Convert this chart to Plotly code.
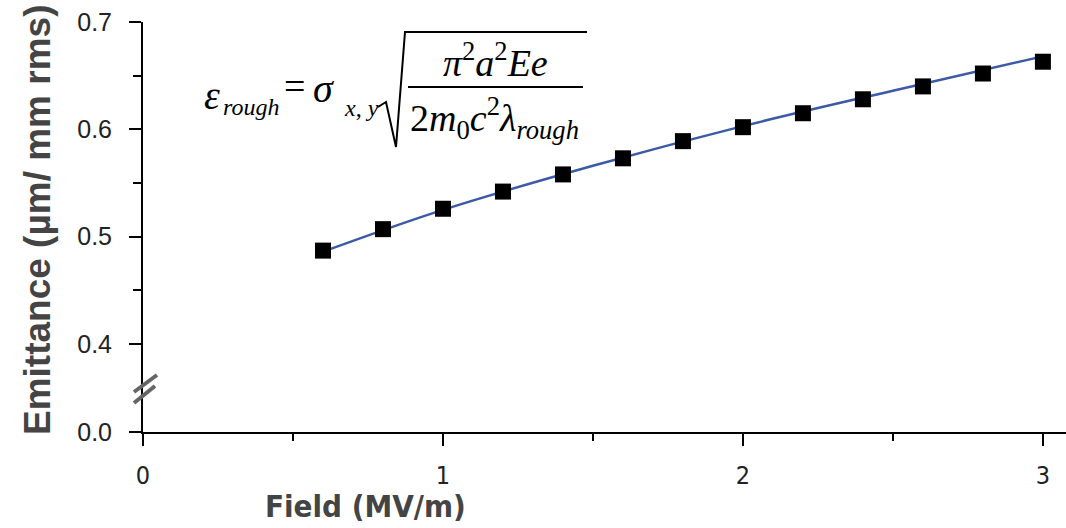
import plotly.graph_objects as go

# ---- data ----
field = [0.6, 0.8, 1.0, 1.2, 1.4, 1.6, 1.8, 2.0, 2.2, 2.4, 2.6, 2.8, 3.0]
emittance = [0.487, 0.507, 0.526, 0.542, 0.558, 0.573, 0.589, 0.602, 0.615, 0.628, 0.640, 0.652, 0.663]
fit_field = [0.6, 1.0, 1.5, 2.0, 2.5, 3.0]
fit_emittance = [0.486, 0.525, 0.566, 0.603, 0.636, 0.668]

# broken y axis: the bottom of the axis stands for 0.0
y_axis_bottom = 0.318
ytick_vals = [y_axis_bottom, 0.4, 0.5, 0.6, 0.7]
ytick_text = ["0.0", "0.4", "0.5", "0.6", "0.7"]
yminor_vals = [0.45, 0.55, 0.65]
xtick_vals = [0, 1, 2, 3]
xtick_text = ["0", "1", "2", "3"]

W, H = 1066, 528
L, R, T, B = 143, 0, 22, 96
pw, ph = W - L - R, H - T - B


def px(x):
    return (x - L) / pw


def py(y):
    return (H - B - y) / ph


fig = go.Figure()
fig.add_trace(go.Scatter(x=fit_field, y=fit_emittance, mode="lines",
                         line=dict(color="#3C5AA6", width=2.5, shape="spline"),
                         hoverinfo="skip", showlegend=False))
fig.add_trace(go.Scatter(x=field, y=emittance, mode="markers",
                         marker=dict(symbol="square", size=16, color="black",
                                     line=dict(width=0)),
                         showlegend=False))

sans = "Liberation Sans, Arial, sans-serif"
narrow = "Liberation Sans Narrow, Arial Narrow, DejaVu Sans Condensed, Liberation Sans"
serif = "Liberation Serif, Times New Roman, serif"

fig.update_xaxes(range=[0, 3.077], showline=True, linecolor="black", linewidth=2,
                 ticks="outside", ticklen=12, tickwidth=2, tickcolor="black",
                 tickvals=xtick_vals, ticktext=xtick_text, ticklabelstandoff=8,
                 tickfont=dict(family=narrow, size=25, color="#222"),
                 minor=dict(tickvals=[0.5, 1.5, 2.5], ticks="outside", ticklen=7,
                            tickwidth=2, tickcolor="black"),
                 showgrid=False, zeroline=False)
fig.update_yaxes(range=[y_axis_bottom, 0.7], showline=True, linecolor="black", linewidth=2,
                 ticks="outside", ticklen=12, tickwidth=2, tickcolor="black",
                 tickvals=ytick_vals, ticktext=ytick_text, ticklabelstandoff=12,
                 tickfont=dict(family=sans, size=25, color="#222"),
                 minor=dict(tickvals=yminor_vals, ticks="outside", ticklen=8,
                            tickwidth=2, tickcolor="black"),
                 showgrid=False, zeroline=False)

ann = []
# axis titles
ann.append(dict(text="<b>Emittance (µm/ mm rms)</b>", x=px(37), y=py(220), xref="paper", yref="paper",
                textangle=-90, showarrow=False, xanchor="center", yanchor="middle",
                font=dict(family=sans, size=37, color="#444")))
ann.append(dict(text="<b>Field (MV/m)</b>", x=px(365), y=py(506), xref="paper", yref="paper",
                showarrow=False, xanchor="center", yanchor="middle",
                font=dict(family=narrow, size=31, color="#444")))

# formula
def t(text, x, y, size, xanchor="center"):
    ann.append(dict(text=text, x=px(x), y=py(y), xref="paper", yref="paper", showarrow=False,
                    xanchor=xanchor, yanchor="middle",
                    font=dict(family=serif, size=size, color="black")))

t("<i>ε</i>", 212, 95, 40)
t("<i>rough</i>", 221, 107, 24, "left")
t("=", 294, 86, 38)
t("<i>σ</i>", 323, 88, 40)
t("<i>x</i>, <i>y</i>", 342, 108, 24, "left")
t("<i>π</i><sup>2</sup><i>a</i><sup>2</sup><i>Ee</i>", 495, 60, 38)
t("2<i>m</i><sub>0</sub><i>c</i><sup>2</sup><i>λ</i><sub><i>rough</i></sub>", 494, 118, 38)

shapes = []
# radical sign
path = "M {},{} L {},{} L {},{} L {},{} L {},{}".format(
    px(378), py(107), px(386), py(102), px(396), py(147), px(405), py(32), px(587), py(32))
shapes.append(dict(type="path", path=path, xref="paper", yref="paper",
                   line=dict(color="black", width=2)))
# fraction bar
shapes.append(dict(type="line", x0=px(408), x1=px(583), y0=py(87), y1=py(87),
                   xref="paper", yref="paper", line=dict(color="black", width=2)))
# axis break marks
for (x0, y0, x1, y1) in [(134, 392, 157, 375), (134, 403, 155, 386)]:
    shapes.append(dict(type="line", x0=px(x0), y0=py(y0), x1=px(x1), y1=py(y1),
                       xref="paper", yref="paper", line=dict(color="#666", width=4)))

fig.update_layout(width=W, height=H, margin=dict(l=L, r=R, t=T, b=B),
                  paper_bgcolor="white", plot_bgcolor="white",
                  annotations=ann, shapes=shapes, showlegend=False)

fig.write_html("out.html")
